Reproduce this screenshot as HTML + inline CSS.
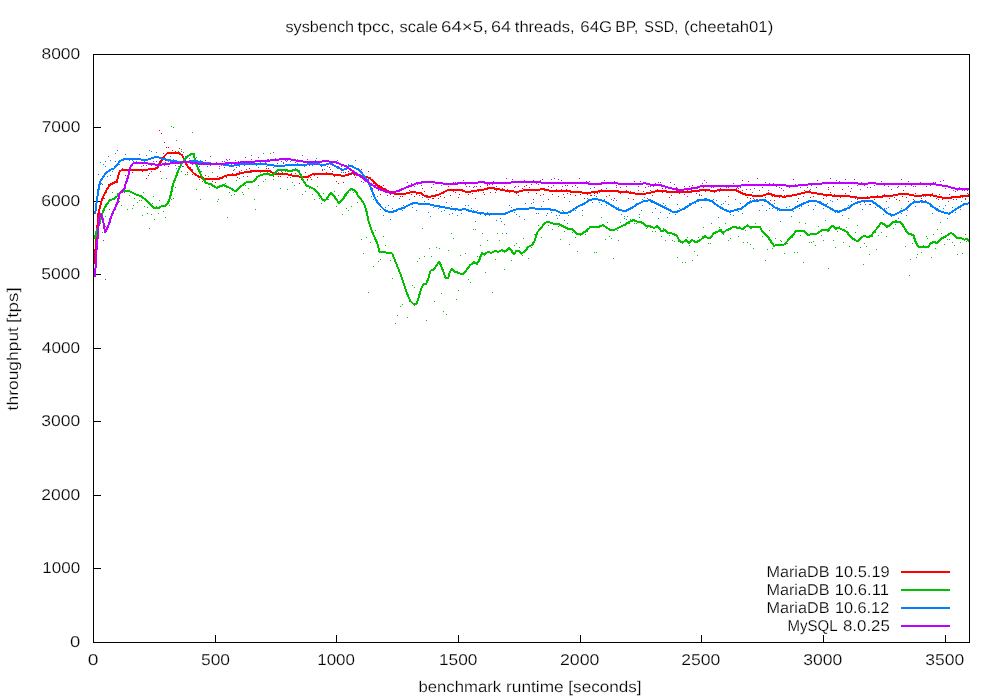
<!DOCTYPE html>
<html><head><meta charset="utf-8"><title>sysbench tpcc</title>
<style>html,body{margin:0;padding:0;background:#fff}svg{display:block;will-change:transform}text{font-family:"Liberation Sans",sans-serif;font-size:15.6px;fill:#000;stroke:#fff;stroke-width:0.2px;text-rendering:geometricPrecision}</style></head>
<body>
<svg width="1000" height="700" viewBox="0 0 1000 700">
<rect width="1000" height="700" fill="#fff"/>
<path d="M94 568h7v1h-7zM94 495h7v1h-7zM94 421h7v1h-7zM94 348h7v1h-7zM94 274h7v1h-7zM94 201h7v1h-7zM94 127h7v1h-7zM215 635h1v7h-1zM336 635h1v7h-1zM458 635h1v7h-1zM580 635h1v7h-1zM701 635h1v7h-1zM823 635h1v7h-1zM945 635h1v7h-1z" fill="#000" shape-rendering="crispEdges"/>
<path d="M95 250h1v1h-1zM97 224h1v1h-1zM99 205h1v1h-1zM102 200h1v1h-1zM104 198h1v1h-1zM108 184h1v1h-1zM110 183h1v1h-1zM112 182h1v1h-1zM114 183h1v1h-1zM117 182h1v1h-1zM119 171h1v1h-1zM122 168h1v1h-1zM125 175h1v1h-1zM126 170h1v1h-1zM129 174h1v1h-1zM132 172h1v1h-1zM135 170h1v1h-1zM137 170h1v1h-1zM140 169h1v1h-1zM142 171h1v1h-1zM143 165h1v1h-1zM146 178h1v1h-1zM148 175h1v1h-1zM151 171h1v1h-1zM153 169h1v1h-1zM155 167h1v1h-1zM158 166h1v1h-1zM160 171h1v1h-1zM163 153h1v1h-1zM165 160h1v1h-1zM168 153h1v1h-1zM170 159h1v1h-1zM172 150h1v1h-1zM175 151h1v1h-1zM179 148h1v1h-1zM180 154h1v1h-1zM183 159h1v1h-1zM185 160h1v1h-1zM187 172h1v1h-1zM190 167h1v1h-1zM192 174h1v1h-1zM194 173h1v1h-1zM197 175h1v1h-1zM199 179h1v1h-1zM202 181h1v1h-1zM205 175h1v1h-1zM206 178h1v1h-1zM209 183h1v1h-1zM212 181h1v1h-1zM215 182h1v1h-1zM217 176h1v1h-1zM218 178h1v1h-1zM222 178h1v1h-1zM224 176h1v1h-1zM226 177h1v1h-1zM229 175h1v1h-1zM232 173h1v1h-1zM234 169h1v1h-1zM237 177h1v1h-1zM239 171h1v1h-1zM241 170h1v1h-1zM243 176h1v1h-1zM247 176h1v1h-1zM249 168h1v1h-1zM251 172h1v1h-1zM252 170h1v1h-1zM256 171h1v1h-1zM258 176h1v1h-1zM260 174h1v1h-1zM263 171h1v1h-1zM266 168h1v1h-1zM268 168h1v1h-1zM270 165h1v1h-1zM273 176h1v1h-1zM275 173h1v1h-1zM278 176h1v1h-1zM280 176h1v1h-1zM282 173h1v1h-1zM284 169h1v1h-1zM287 177h1v1h-1zM291 173h1v1h-1zM293 176h1v1h-1zM295 173h1v1h-1zM296 175h1v1h-1zM299 183h1v1h-1zM301 179h1v1h-1zM305 172h1v1h-1zM307 179h1v1h-1zM310 177h1v1h-1zM311 179h1v1h-1zM314 175h1v1h-1zM317 177h1v1h-1zM319 174h1v1h-1zM322 170h1v1h-1zM325 174h1v1h-1zM326 172h1v1h-1zM329 167h1v1h-1zM332 171h1v1h-1zM334 176h1v1h-1zM336 181h1v1h-1zM338 183h1v1h-1zM341 170h1v1h-1zM343 182h1v1h-1zM345 172h1v1h-1zM348 175h1v1h-1zM351 170h1v1h-1zM354 175h1v1h-1zM355 177h1v1h-1zM358 174h1v1h-1zM361 169h1v1h-1zM364 178h1v1h-1zM365 178h1v1h-1zM368 171h1v1h-1zM370 177h1v1h-1zM373 183h1v1h-1zM376 183h1v1h-1zM378 187h1v1h-1zM380 194h1v1h-1zM383 185h1v1h-1zM385 189h1v1h-1zM387 195h1v1h-1zM390 194h1v1h-1zM392 191h1v1h-1zM395 194h1v1h-1zM397 193h1v1h-1zM400 196h1v1h-1zM402 196h1v1h-1zM404 194h1v1h-1zM406 192h1v1h-1zM408 192h1v1h-1zM411 194h1v1h-1zM414 196h1v1h-1zM416 194h1v1h-1zM419 195h1v1h-1zM422 188h1v1h-1zM424 191h1v1h-1zM427 195h1v1h-1zM428 199h1v1h-1zM432 198h1v1h-1zM433 198h1v1h-1zM436 190h1v1h-1zM438 198h1v1h-1zM440 196h1v1h-1zM444 197h1v1h-1zM446 191h1v1h-1zM448 186h1v1h-1zM450 195h1v1h-1zM453 191h1v1h-1zM455 192h1v1h-1zM458 197h1v1h-1zM459 194h1v1h-1zM462 189h1v1h-1zM465 184h1v1h-1zM468 194h1v1h-1zM469 186h1v1h-1zM472 193h1v1h-1zM475 198h1v1h-1zM478 191h1v1h-1zM480 186h1v1h-1zM483 192h1v1h-1zM484 194h1v1h-1zM487 185h1v1h-1zM490 192h1v1h-1zM492 184h1v1h-1zM495 192h1v1h-1zM496 190h1v1h-1zM499 188h1v1h-1zM502 188h1v1h-1zM504 186h1v1h-1zM507 189h1v1h-1zM509 192h1v1h-1zM511 181h1v1h-1zM513 190h1v1h-1zM516 193h1v1h-1zM518 195h1v1h-1zM522 188h1v1h-1zM524 186h1v1h-1zM526 185h1v1h-1zM528 192h1v1h-1zM530 189h1v1h-1zM533 199h1v1h-1zM536 193h1v1h-1zM538 189h1v1h-1zM540 195h1v1h-1zM543 194h1v1h-1zM545 190h1v1h-1zM548 199h1v1h-1zM551 187h1v1h-1zM552 194h1v1h-1zM556 189h1v1h-1zM558 196h1v1h-1zM561 189h1v1h-1zM563 194h1v1h-1zM564 197h1v1h-1zM567 193h1v1h-1zM570 194h1v1h-1zM572 186h1v1h-1zM575 195h1v1h-1zM577 192h1v1h-1zM580 194h1v1h-1zM582 192h1v1h-1zM584 198h1v1h-1zM587 194h1v1h-1zM590 195h1v1h-1zM591 195h1v1h-1zM594 193h1v1h-1zM597 193h1v1h-1zM599 192h1v1h-1zM601 189h1v1h-1zM604 191h1v1h-1zM606 196h1v1h-1zM609 195h1v1h-1zM611 191h1v1h-1zM614 198h1v1h-1zM616 185h1v1h-1zM618 190h1v1h-1zM620 193h1v1h-1zM623 191h1v1h-1zM626 190h1v1h-1zM628 198h1v1h-1zM630 191h1v1h-1zM633 199h1v1h-1zM635 193h1v1h-1zM638 190h1v1h-1zM641 202h1v1h-1zM643 191h1v1h-1zM645 187h1v1h-1zM647 198h1v1h-1zM650 190h1v1h-1zM652 195h1v1h-1zM655 185h1v1h-1zM657 189h1v1h-1zM660 191h1v1h-1zM662 192h1v1h-1zM665 188h1v1h-1zM667 186h1v1h-1zM669 197h1v1h-1zM671 195h1v1h-1zM674 192h1v1h-1zM676 187h1v1h-1zM679 193h1v1h-1zM682 189h1v1h-1zM684 186h1v1h-1zM687 190h1v1h-1zM690 188h1v1h-1zM692 185h1v1h-1zM695 188h1v1h-1zM697 188h1v1h-1zM699 194h1v1h-1zM701 195h1v1h-1zM703 187h1v1h-1zM705 191h1v1h-1zM708 186h1v1h-1zM710 185h1v1h-1zM714 192h1v1h-1zM715 190h1v1h-1zM718 189h1v1h-1zM720 186h1v1h-1zM723 190h1v1h-1zM726 187h1v1h-1zM728 196h1v1h-1zM730 185h1v1h-1zM733 190h1v1h-1zM736 191h1v1h-1zM738 188h1v1h-1zM740 192h1v1h-1zM742 190h1v1h-1zM745 195h1v1h-1zM747 197h1v1h-1zM750 198h1v1h-1zM753 198h1v1h-1zM754 196h1v1h-1zM756 199h1v1h-1zM759 190h1v1h-1zM762 199h1v1h-1zM765 197h1v1h-1zM768 192h1v1h-1zM770 200h1v1h-1zM772 196h1v1h-1zM774 200h1v1h-1zM776 195h1v1h-1zM779 197h1v1h-1zM781 196h1v1h-1zM784 195h1v1h-1zM787 196h1v1h-1zM789 196h1v1h-1zM791 195h1v1h-1zM794 195h1v1h-1zM796 194h1v1h-1zM798 198h1v1h-1zM801 192h1v1h-1zM804 190h1v1h-1zM807 187h1v1h-1zM809 190h1v1h-1zM810 197h1v1h-1zM813 196h1v1h-1zM816 192h1v1h-1zM818 193h1v1h-1zM820 201h1v1h-1zM823 198h1v1h-1zM826 196h1v1h-1zM828 189h1v1h-1zM830 192h1v1h-1zM833 186h1v1h-1zM834 194h1v1h-1zM837 199h1v1h-1zM840 197h1v1h-1zM842 189h1v1h-1zM845 193h1v1h-1zM847 195h1v1h-1zM850 191h1v1h-1zM852 196h1v1h-1zM855 198h1v1h-1zM857 199h1v1h-1zM859 201h1v1h-1zM861 197h1v1h-1zM864 202h1v1h-1zM867 196h1v1h-1zM870 204h1v1h-1zM871 197h1v1h-1zM874 199h1v1h-1zM877 195h1v1h-1zM879 197h1v1h-1zM882 197h1v1h-1zM884 194h1v1h-1zM886 201h1v1h-1zM889 198h1v1h-1zM891 196h1v1h-1zM894 197h1v1h-1zM896 199h1v1h-1zM899 200h1v1h-1zM902 196h1v1h-1zM903 190h1v1h-1zM906 197h1v1h-1zM908 201h1v1h-1zM910 195h1v1h-1zM913 199h1v1h-1zM915 193h1v1h-1zM918 201h1v1h-1zM921 198h1v1h-1zM923 194h1v1h-1zM925 200h1v1h-1zM928 194h1v1h-1zM930 196h1v1h-1zM932 193h1v1h-1zM936 198h1v1h-1zM938 199h1v1h-1zM939 194h1v1h-1zM942 199h1v1h-1zM944 197h1v1h-1zM948 201h1v1h-1zM949 198h1v1h-1zM953 199h1v1h-1zM955 191h1v1h-1zM956 199h1v1h-1zM960 195h1v1h-1zM962 197h1v1h-1zM965 199h1v1h-1zM967 193h1v1h-1zM159 130h1v1h-1zM161 133h1v1h-1zM164 142h1v1h-1zM166 147h1v1h-1zM168 147h1v1h-1z" fill="#ff0000" shape-rendering="crispEdges"/>
<polyline points="94.3,264.0 95.7,247.0 97.9,221.0 98.5,213.0 100.0,207.0 101.4,201.4 103.6,195.7 105.7,192.0 107.0,189.0 110.0,185.0 114.0,183.0 117.0,181.0 118.5,175.0 120.0,171.0 123.0,169.8 129.0,169.8 133.0,169.5 137.0,170.0 143.0,170.0 148.0,169.5 152.0,169.0 156.5,168.5 158.5,166.0 160.0,162.5 162.0,159.5 164.5,156.0 167.0,153.5 170.0,152.8 175.0,152.8 179.0,153.2 182.0,155.0 183.5,158.0 184.5,161.0 186.5,164.5 189.5,168.7 194.0,173.5 198.5,176.5 204.5,178.8 210.5,178.8 216.5,179.5 221.0,178.0 225.5,175.8 230.0,174.7 236.0,174.7 240.5,173.2 245.0,172.3 249.5,171.7 254.0,170.8 260.0,170.5 266.0,170.5 269.8,171.2 273.5,173.2 278.0,173.9 282.5,173.5 287.0,174.2 291.5,175.4 297.5,176.2 303.5,177.2 308.0,176.8 311.0,174.7 314.0,173.9 320.0,173.9 327.5,173.9 330.0,173.9 336.0,175.0 343.5,175.8 348.0,174.7 352.5,173.2 357.0,174.7 361.5,175.8 366.0,176.8 369.8,178.3 373.5,181.8 376.5,184.8 381.0,187.3 385.5,190.0 390.0,191.9 394.5,193.8 399.0,193.8 403.5,194.2 408.0,193.0 412.5,191.9 417.0,192.7 420.8,193.0 424.5,196.0 429.0,196.8 433.5,196.0 438.0,194.9 442.5,193.0 447.0,190.4 453.0,190.0 460.5,190.0 465.0,191.5 471.0,191.5 475.0,190.8 482.5,189.8 490.0,187.9 497.5,189.0 505.0,190.5 512.5,191.2 517.0,192.0 524.5,190.2 535.0,190.5 542.5,189.0 550.0,190.8 560.5,190.8 566.5,190.5 572.5,192.0 580.0,192.4 589.0,192.8 595.0,191.7 602.5,191.2 610.0,190.8 617.5,191.2 620.0,192.0 627.5,192.3 635.0,193.5 642.5,194.2 650.0,192.8 659.0,190.5 668.0,191.7 677.0,192.4 684.5,192.0 695.0,191.2 704.0,189.8 713.0,190.8 722.0,190.2 731.0,189.8 737.0,190.5 741.5,193.2 747.5,195.0 755.0,195.8 760.2,196.5 765.0,194.7 769.5,193.8 775.5,195.8 784.5,196.8 795.0,195.0 801.0,193.5 807.0,192.0 813.0,192.8 820.5,194.2 829.5,195.4 840.0,195.8 847.5,196.2 855.0,197.2 861.0,198.0 867.0,198.3 873.0,196.9 882.0,196.5 891.0,195.8 900.0,194.2 907.5,194.2 915.0,195.8 925.0,195.4 931.0,195.0 937.0,196.5 943.0,197.7 949.0,198.0 955.0,196.8 961.0,196.5 969.2,195.4" fill="none" stroke="#ff0000" stroke-width="2" stroke-linejoin="round" shape-rendering="crispEdges"/>
<path d="M96 236h1v1h-1zM97 232h1v1h-1zM100 213h1v1h-1zM102 232h1v1h-1zM105 216h1v1h-1zM108 224h1v1h-1zM109 209h1v1h-1zM112 192h1v1h-1zM115 204h1v1h-1zM117 193h1v1h-1zM119 201h1v1h-1zM121 205h1v1h-1zM125 182h1v1h-1zM127 191h1v1h-1zM129 195h1v1h-1zM132 208h1v1h-1zM133 205h1v1h-1zM136 194h1v1h-1zM139 200h1v1h-1zM141 200h1v1h-1zM143 192h1v1h-1zM147 207h1v1h-1zM148 201h1v1h-1zM152 203h1v1h-1zM153 196h1v1h-1zM156 206h1v1h-1zM158 213h1v1h-1zM161 178h1v1h-1zM163 211h1v1h-1zM165 217h1v1h-1zM169 205h1v1h-1zM171 199h1v1h-1zM173 198h1v1h-1zM175 187h1v1h-1zM178 172h1v1h-1zM181 171h1v1h-1zM183 152h1v1h-1zM185 174h1v1h-1zM187 174h1v1h-1zM191 162h1v1h-1zM192 132h1v1h-1zM194 156h1v1h-1zM196 189h1v1h-1zM200 199h1v1h-1zM203 179h1v1h-1zM205 180h1v1h-1zM208 176h1v1h-1zM209 187h1v1h-1zM212 172h1v1h-1zM214 185h1v1h-1zM217 201h1v1h-1zM218 199h1v1h-1zM221 163h1v1h-1zM225 183h1v1h-1zM227 217h1v1h-1zM229 192h1v1h-1zM231 195h1v1h-1zM234 194h1v1h-1zM236 180h1v1h-1zM239 178h1v1h-1zM242 192h1v1h-1zM243 194h1v1h-1zM245 185h1v1h-1zM248 188h1v1h-1zM251 172h1v1h-1zM254 199h1v1h-1zM255 209h1v1h-1zM258 185h1v1h-1zM260 172h1v1h-1zM263 181h1v1h-1zM265 179h1v1h-1zM268 164h1v1h-1zM270 153h1v1h-1zM273 179h1v1h-1zM275 173h1v1h-1zM278 172h1v1h-1zM280 188h1v1h-1zM283 173h1v1h-1zM285 171h1v1h-1zM287 189h1v1h-1zM290 177h1v1h-1zM292 182h1v1h-1zM294 185h1v1h-1zM297 159h1v1h-1zM300 174h1v1h-1zM302 194h1v1h-1zM305 191h1v1h-1zM307 180h1v1h-1zM309 188h1v1h-1zM312 194h1v1h-1zM314 199h1v1h-1zM317 186h1v1h-1zM319 198h1v1h-1zM321 203h1v1h-1zM323 193h1v1h-1zM327 199h1v1h-1zM328 199h1v1h-1zM330 192h1v1h-1zM334 191h1v1h-1zM336 206h1v1h-1zM338 195h1v1h-1zM342 214h1v1h-1zM344 194h1v1h-1zM346 208h1v1h-1zM348 210h1v1h-1zM351 206h1v1h-1zM353 192h1v1h-1zM356 194h1v1h-1zM357 202h1v1h-1zM511 260h1v1h-1zM514 245h1v1h-1zM516 243h1v1h-1zM519 247h1v1h-1zM522 255h1v1h-1zM523 238h1v1h-1zM526 250h1v1h-1zM528 258h1v1h-1zM531 247h1v1h-1zM534 234h1v1h-1zM535 234h1v1h-1zM538 225h1v1h-1zM541 237h1v1h-1zM543 224h1v1h-1zM546 215h1v1h-1zM548 225h1v1h-1zM551 209h1v1h-1zM552 229h1v1h-1zM555 224h1v1h-1zM558 226h1v1h-1zM560 239h1v1h-1zM563 211h1v1h-1zM564 231h1v1h-1zM568 215h1v1h-1zM569 244h1v1h-1zM572 232h1v1h-1zM575 237h1v1h-1zM577 251h1v1h-1zM580 235h1v1h-1zM582 215h1v1h-1zM585 234h1v1h-1zM587 231h1v1h-1zM589 226h1v1h-1zM591 226h1v1h-1zM594 252h1v1h-1zM596 252h1v1h-1zM599 226h1v1h-1zM601 217h1v1h-1zM605 239h1v1h-1zM607 222h1v1h-1zM609 236h1v1h-1zM611 238h1v1h-1zM613 258h1v1h-1zM617 230h1v1h-1zM618 240h1v1h-1zM620 222h1v1h-1zM624 216h1v1h-1zM626 224h1v1h-1zM629 223h1v1h-1zM630 219h1v1h-1zM634 223h1v1h-1zM636 223h1v1h-1zM639 217h1v1h-1zM641 221h1v1h-1zM642 222h1v1h-1zM646 228h1v1h-1zM647 227h1v1h-1zM650 227h1v1h-1zM652 231h1v1h-1zM655 231h1v1h-1zM658 228h1v1h-1zM661 236h1v1h-1zM663 228h1v1h-1zM665 240h1v1h-1zM667 233h1v1h-1zM669 235h1v1h-1zM672 240h1v1h-1zM674 241h1v1h-1zM677 257h1v1h-1zM680 241h1v1h-1zM682 262h1v1h-1zM685 262h1v1h-1zM687 237h1v1h-1zM689 245h1v1h-1zM692 260h1v1h-1zM694 251h1v1h-1zM697 255h1v1h-1zM698 237h1v1h-1zM702 236h1v1h-1zM703 227h1v1h-1zM706 237h1v1h-1zM708 243h1v1h-1zM710 243h1v1h-1zM713 233h1v1h-1zM717 231h1v1h-1zM719 227h1v1h-1zM720 230h1v1h-1zM723 234h1v1h-1zM725 223h1v1h-1zM728 240h1v1h-1zM730 238h1v1h-1zM733 227h1v1h-1zM736 226h1v1h-1zM738 236h1v1h-1zM739 226h1v1h-1zM743 242h1v1h-1zM745 230h1v1h-1zM747 242h1v1h-1zM750 244h1v1h-1zM753 248h1v1h-1zM755 223h1v1h-1zM758 227h1v1h-1zM760 229h1v1h-1zM762 236h1v1h-1zM765 260h1v1h-1zM767 249h1v1h-1zM769 230h1v1h-1zM772 248h1v1h-1zM775 238h1v1h-1zM777 244h1v1h-1zM780 240h1v1h-1zM781 241h1v1h-1zM784 253h1v1h-1zM787 243h1v1h-1zM789 239h1v1h-1zM792 237h1v1h-1zM794 252h1v1h-1zM797 252h1v1h-1zM799 222h1v1h-1zM800 235h1v1h-1zM803 262h1v1h-1zM805 223h1v1h-1zM809 242h1v1h-1zM811 242h1v1h-1zM813 241h1v1h-1zM815 245h1v1h-1zM818 226h1v1h-1zM821 235h1v1h-1zM823 240h1v1h-1zM825 220h1v1h-1zM828 268h1v1h-1zM830 226h1v1h-1zM833 240h1v1h-1zM835 247h1v1h-1zM837 231h1v1h-1zM839 226h1v1h-1zM843 242h1v1h-1zM846 227h1v1h-1zM848 218h1v1h-1zM849 246h1v1h-1zM852 239h1v1h-1zM855 232h1v1h-1zM857 225h1v1h-1zM860 247h1v1h-1zM863 264h1v1h-1zM864 243h1v1h-1zM866 246h1v1h-1zM869 254h1v1h-1zM872 236h1v1h-1zM875 232h1v1h-1zM876 249h1v1h-1zM878 235h1v1h-1zM881 232h1v1h-1zM883 214h1v1h-1zM886 236h1v1h-1zM889 226h1v1h-1zM891 223h1v1h-1zM893 228h1v1h-1zM895 224h1v1h-1zM899 212h1v1h-1zM901 208h1v1h-1zM903 227h1v1h-1zM905 246h1v1h-1zM909 275h1v1h-1zM910 259h1v1h-1zM912 243h1v1h-1zM916 257h1v1h-1zM917 254h1v1h-1zM921 252h1v1h-1zM923 245h1v1h-1zM926 236h1v1h-1zM927 238h1v1h-1zM931 257h1v1h-1zM933 234h1v1h-1zM935 248h1v1h-1zM937 229h1v1h-1zM940 222h1v1h-1zM941 233h1v1h-1zM944 244h1v1h-1zM947 239h1v1h-1zM949 239h1v1h-1zM952 242h1v1h-1zM954 245h1v1h-1zM957 254h1v1h-1zM960 242h1v1h-1zM962 253h1v1h-1zM965 234h1v1h-1zM966 241h1v1h-1zM422 228h1v1h-1zM375 230h1v1h-1zM383 236h1v1h-1zM366 237h1v1h-1zM361 239h1v1h-1zM370 242h1v1h-1zM385 245h1v1h-1zM363 253h1v1h-1zM380 259h1v1h-1zM378 261h1v1h-1zM390 260h1v1h-1zM373 266h1v1h-1zM392 278h1v1h-1zM368 292h1v1h-1zM412 285h1v1h-1zM414 287h1v1h-1zM402 304h1v1h-1zM400 306h1v1h-1zM397 315h1v1h-1zM407 317h1v1h-1zM395 323h1v1h-1zM426 320h1v1h-1zM434 301h1v1h-1zM441 293h1v1h-1zM443 311h1v1h-1zM446 314h1v1h-1zM456 299h1v1h-1zM458 290h1v1h-1zM468 279h1v1h-1zM470 282h1v1h-1zM485 272h1v1h-1zM492 292h1v1h-1zM504 269h1v1h-1zM495 259h1v1h-1zM429 248h1v1h-1zM436 247h1v1h-1zM439 248h1v1h-1zM448 250h1v1h-1zM424 256h1v1h-1zM431 256h1v1h-1zM419 258h1v1h-1zM417 261h1v1h-1zM451 233h1v1h-1zM453 238h1v1h-1zM460 255h1v1h-1zM465 253h1v1h-1zM473 229h1v1h-1zM475 229h1v1h-1zM482 233h1v1h-1zM480 245h1v1h-1zM477 256h1v1h-1zM487 240h1v1h-1zM497 233h1v1h-1zM502 233h1v1h-1zM499 240h1v1h-1zM171 126h1v1h-1zM173 127h1v1h-1zM176 140h1v1h-1zM181 149h1v1h-1zM178 151h1v1h-1zM127 209h1v1h-1zM134 198h1v1h-1zM137 202h1v1h-1zM144 206h1v1h-1zM142 215h1v1h-1zM147 213h1v1h-1zM151 214h1v1h-1zM154 219h1v1h-1zM149 228h1v1h-1zM159 200h1v1h-1z" fill="#00c000" shape-rendering="crispEdges"/>
<polyline points="94.7,239.3 96.4,231.4 99.3,224.3 102.1,214.3 104.3,208.6 107.1,203.6 110.0,200.3 114.3,198.6 117.1,196.4 120.7,192.1 124.3,190.7 128.6,190.7 132.9,192.9 137.1,195.0 140.7,196.0 145.0,199.3 148.6,202.9 151.4,205.7 154.3,207.9 158.6,207.9 161.4,206.4 164.3,206.4 167.1,204.3 169.3,200.0 171.2,193.0 173.0,184.0 176.0,177.0 178.0,171.0 181.0,165.0 184.0,160.0 185.0,159.2 188.8,155.5 191.8,153.7 193.7,154.0 194.8,159.2 197.0,166.0 200.0,172.8 203.0,178.8 206.0,183.2 211.2,184.0 214.2,186.7 216.8,187.8 220.2,186.2 223.7,185.2 227.0,186.7 230.0,187.8 233.0,190.0 235.2,191.0 237.5,190.0 239.8,187.0 242.8,184.8 245.8,182.5 251.0,182.2 254.3,181.0 257.0,177.2 260.0,175.4 263.8,174.2 267.5,173.5 270.5,175.0 272.8,175.4 275.0,172.8 277.2,170.5 281.0,170.2 284.8,169.8 288.5,170.8 290.8,171.2 293.8,170.0 296.8,170.0 299.0,172.0 301.2,175.8 303.5,181.0 306.5,185.5 310.2,187.0 314.0,188.9 317.0,191.5 320.0,196.0 323.0,199.8 324.5,200.8 326.8,198.7 329.0,195.2 331.2,193.0 333.0,194.5 336.0,199.0 339.0,202.8 342.0,200.5 345.0,196.0 348.0,191.5 351.0,188.9 354.0,190.0 356.2,191.5 357.8,196.0 360.8,199.0 363.0,202.0 365.2,206.5 366.8,212.5 368.2,220.0 369.8,225.0 372.8,233.2 375.8,240.0 378.0,245.2 379.5,252.3 383.2,251.7 387.8,253.1 392.2,253.5 395.2,261.0 398.2,268.5 401.2,276.0 404.2,285.0 407.2,294.0 410.2,300.8 414.3,304.8 417.0,303.0 419.2,295.5 421.5,288.0 423.8,283.5 426.0,284.2 428.2,279.0 430.5,270.8 433.5,269.7 436.5,265.5 439.1,261.8 441.0,265.5 443.2,271.5 445.8,278.2 448.1,278.2 450.0,271.5 452.2,268.8 455.2,271.8 459.0,273.0 462.8,274.5 466.5,270.0 470.2,265.2 474.0,262.2 477.0,263.7 479.2,260.2 481.8,253.2 484.5,254.7 487.5,252.0 491.2,252.8 495.0,251.2 498.8,251.7 501.8,250.2 504.8,251.7 509.2,247.9 511.8,251.2 513.7,254.2 516.2,251.2 519.2,251.2 521.5,253.5 525.2,251.2 528.2,246.8 532.0,245.2 535.0,240.0 537.2,232.5 541.0,228.0 544.8,222.8 548.5,222.0 553.0,223.5 559.0,224.2 563.5,226.5 568.0,228.8 572.5,229.5 577.0,233.7 581.5,234.0 586.0,231.0 590.5,227.2 595.0,227.2 599.5,226.5 603.2,225.0 607.0,228.0 610.0,229.8 613.8,230.2 617.5,228.3 620.0,226.8 624.5,225.0 629.0,222.0 633.5,220.1 638.0,222.0 642.5,222.8 645.5,225.8 650.0,226.2 653.8,228.0 657.5,226.1 661.2,231.0 665.0,230.2 668.0,232.5 672.5,233.7 677.0,235.5 679.2,240.8 682.2,242.7 686.0,240.0 689.0,242.7 692.0,240.0 695.8,242.2 699.5,240.8 704.8,236.2 707.8,237.8 710.8,237.8 713.8,233.2 717.5,231.8 720.5,229.8 722.8,233.2 726.5,230.2 730.2,228.8 733.2,226.5 737.0,228.0 743.0,228.8 747.5,225.3 750.5,227.7 755.0,226.8 760.2,227.2 762.5,231.8 765.0,234.0 768.0,237.0 771.0,241.5 774.0,245.7 778.5,244.8 784.5,244.5 789.0,239.2 792.8,235.5 795.8,231.0 804.0,231.0 807.8,235.2 811.5,234.0 816.0,234.3 822.0,230.2 825.8,229.5 828.0,231.0 831.0,226.5 833.2,225.8 835.5,228.8 838.5,228.0 843.0,229.8 846.8,231.8 850.5,237.0 854.2,239.2 857.2,241.5 861.0,237.8 864.0,235.8 867.8,237.3 871.5,235.5 876.0,229.5 879.0,225.8 881.2,222.8 884.2,224.2 886.5,226.8 889.5,225.8 891.8,222.8 896.2,221.2 901.5,222.8 904.5,228.0 907.5,233.2 911.2,234.3 913.5,235.5 916.0,243.0 919.0,247.5 923.5,246.8 928.0,247.5 930.2,243.8 933.2,242.2 937.0,242.7 941.5,238.5 946.0,236.2 950.5,233.2 953.5,234.0 956.5,237.8 961.0,238.1 964.0,239.6 967.0,239.2 969.2,240.8" fill="none" stroke="#00c000" stroke-width="2" stroke-linejoin="round" shape-rendering="crispEdges"/>
<path d="M95 209h1v1h-1zM98 189h1v1h-1zM101 183h1v1h-1zM102 184h1v1h-1zM105 166h1v1h-1zM107 176h1v1h-1zM110 175h1v1h-1zM112 171h1v1h-1zM115 161h1v1h-1zM116 164h1v1h-1zM119 164h1v1h-1zM121 169h1v1h-1zM124 159h1v1h-1zM126 159h1v1h-1zM129 160h1v1h-1zM132 160h1v1h-1zM133 161h1v1h-1zM136 161h1v1h-1zM138 162h1v1h-1zM141 166h1v1h-1zM144 161h1v1h-1zM146 155h1v1h-1zM149 173h1v1h-1zM151 165h1v1h-1zM153 164h1v1h-1zM156 152h1v1h-1zM158 163h1v1h-1zM161 162h1v1h-1zM163 158h1v1h-1zM166 178h1v1h-1zM168 161h1v1h-1zM170 156h1v1h-1zM173 159h1v1h-1zM176 168h1v1h-1zM178 166h1v1h-1zM181 151h1v1h-1zM183 166h1v1h-1zM185 156h1v1h-1zM187 156h1v1h-1zM189 158h1v1h-1zM192 169h1v1h-1zM196 157h1v1h-1zM196 166h1v1h-1zM200 160h1v1h-1zM201 171h1v1h-1zM204 164h1v1h-1zM207 166h1v1h-1zM210 156h1v1h-1zM212 164h1v1h-1zM214 164h1v1h-1zM216 162h1v1h-1zM219 168h1v1h-1zM221 165h1v1h-1zM224 167h1v1h-1zM227 160h1v1h-1zM228 162h1v1h-1zM231 164h1v1h-1zM233 170h1v1h-1zM235 160h1v1h-1zM239 166h1v1h-1zM240 172h1v1h-1zM243 176h1v1h-1zM246 169h1v1h-1zM248 163h1v1h-1zM251 155h1v1h-1zM254 163h1v1h-1zM256 165h1v1h-1zM258 167h1v1h-1zM260 162h1v1h-1zM263 153h1v1h-1zM266 166h1v1h-1zM267 159h1v1h-1zM270 165h1v1h-1zM273 167h1v1h-1zM275 158h1v1h-1zM277 170h1v1h-1zM281 171h1v1h-1zM283 162h1v1h-1zM286 161h1v1h-1zM288 164h1v1h-1zM290 161h1v1h-1zM292 165h1v1h-1zM295 168h1v1h-1zM297 163h1v1h-1zM299 170h1v1h-1zM302 155h1v1h-1zM304 166h1v1h-1zM307 161h1v1h-1zM309 165h1v1h-1zM312 165h1v1h-1zM315 160h1v1h-1zM316 158h1v1h-1zM319 164h1v1h-1zM322 169h1v1h-1zM324 169h1v1h-1zM327 166h1v1h-1zM329 161h1v1h-1zM330 169h1v1h-1zM334 165h1v1h-1zM337 160h1v1h-1zM338 166h1v1h-1zM341 172h1v1h-1zM343 172h1v1h-1zM345 165h1v1h-1zM348 164h1v1h-1zM351 172h1v1h-1zM353 174h1v1h-1zM355 160h1v1h-1zM358 168h1v1h-1zM360 174h1v1h-1zM363 182h1v1h-1zM365 178h1v1h-1zM368 179h1v1h-1zM371 196h1v1h-1zM373 199h1v1h-1zM376 202h1v1h-1zM377 196h1v1h-1zM380 209h1v1h-1zM383 215h1v1h-1zM385 207h1v1h-1zM388 205h1v1h-1zM390 219h1v1h-1zM392 208h1v1h-1zM395 211h1v1h-1zM396 211h1v1h-1zM399 198h1v1h-1zM402 210h1v1h-1zM403 205h1v1h-1zM407 206h1v1h-1zM409 199h1v1h-1zM412 207h1v1h-1zM414 203h1v1h-1zM416 210h1v1h-1zM419 203h1v1h-1zM422 197h1v1h-1zM424 201h1v1h-1zM426 197h1v1h-1zM428 212h1v1h-1zM430 216h1v1h-1zM433 207h1v1h-1zM435 194h1v1h-1zM438 208h1v1h-1zM441 211h1v1h-1zM444 210h1v1h-1zM446 202h1v1h-1zM449 214h1v1h-1zM451 206h1v1h-1zM452 213h1v1h-1zM455 210h1v1h-1zM457 215h1v1h-1zM461 213h1v1h-1zM462 208h1v1h-1zM465 205h1v1h-1zM468 205h1v1h-1zM471 208h1v1h-1zM473 210h1v1h-1zM475 221h1v1h-1zM477 210h1v1h-1zM480 214h1v1h-1zM482 213h1v1h-1zM485 215h1v1h-1zM487 212h1v1h-1zM489 215h1v1h-1zM492 214h1v1h-1zM495 213h1v1h-1zM496 220h1v1h-1zM500 218h1v1h-1zM501 221h1v1h-1zM504 224h1v1h-1zM506 233h1v1h-1zM509 205h1v1h-1zM511 207h1v1h-1zM514 212h1v1h-1zM516 214h1v1h-1zM519 216h1v1h-1zM522 209h1v1h-1zM524 219h1v1h-1zM525 203h1v1h-1zM528 209h1v1h-1zM531 203h1v1h-1zM533 202h1v1h-1zM536 213h1v1h-1zM538 213h1v1h-1zM541 206h1v1h-1zM543 201h1v1h-1zM546 215h1v1h-1zM547 213h1v1h-1zM551 212h1v1h-1zM553 209h1v1h-1zM556 215h1v1h-1zM557 218h1v1h-1zM559 215h1v1h-1zM562 210h1v1h-1zM564 220h1v1h-1zM567 223h1v1h-1zM569 201h1v1h-1zM573 209h1v1h-1zM575 210h1v1h-1zM577 207h1v1h-1zM580 204h1v1h-1zM582 210h1v1h-1zM585 202h1v1h-1zM587 198h1v1h-1zM590 188h1v1h-1zM592 202h1v1h-1zM594 195h1v1h-1zM596 196h1v1h-1zM599 202h1v1h-1zM601 204h1v1h-1zM604 199h1v1h-1zM606 205h1v1h-1zM608 203h1v1h-1zM611 199h1v1h-1zM613 200h1v1h-1zM616 200h1v1h-1zM618 207h1v1h-1zM621 214h1v1h-1zM624 218h1v1h-1zM626 219h1v1h-1zM627 216h1v1h-1zM630 208h1v1h-1zM633 206h1v1h-1zM636 203h1v1h-1zM639 214h1v1h-1zM641 210h1v1h-1zM642 199h1v1h-1zM644 197h1v1h-1zM648 192h1v1h-1zM651 202h1v1h-1zM652 212h1v1h-1zM655 208h1v1h-1zM658 218h1v1h-1zM660 212h1v1h-1zM663 203h1v1h-1zM665 205h1v1h-1zM667 217h1v1h-1zM669 213h1v1h-1zM672 212h1v1h-1zM675 214h1v1h-1zM677 204h1v1h-1zM679 208h1v1h-1zM682 208h1v1h-1zM684 209h1v1h-1zM687 205h1v1h-1zM689 203h1v1h-1zM691 203h1v1h-1zM695 203h1v1h-1zM697 199h1v1h-1zM699 195h1v1h-1zM701 207h1v1h-1zM704 198h1v1h-1zM706 198h1v1h-1zM708 199h1v1h-1zM711 223h1v1h-1zM713 199h1v1h-1zM716 200h1v1h-1zM718 217h1v1h-1zM721 204h1v1h-1zM723 203h1v1h-1zM725 201h1v1h-1zM728 204h1v1h-1zM730 214h1v1h-1zM733 215h1v1h-1zM735 199h1v1h-1zM738 211h1v1h-1zM740 203h1v1h-1zM742 213h1v1h-1zM745 206h1v1h-1zM747 202h1v1h-1zM750 200h1v1h-1zM752 192h1v1h-1zM754 199h1v1h-1zM757 199h1v1h-1zM759 210h1v1h-1zM762 205h1v1h-1zM764 201h1v1h-1zM766 210h1v1h-1zM769 208h1v1h-1zM772 208h1v1h-1zM774 203h1v1h-1zM777 210h1v1h-1zM780 221h1v1h-1zM782 209h1v1h-1zM784 209h1v1h-1zM786 207h1v1h-1zM789 206h1v1h-1zM791 216h1v1h-1zM793 211h1v1h-1zM797 201h1v1h-1zM799 208h1v1h-1zM801 206h1v1h-1zM803 196h1v1h-1zM806 201h1v1h-1zM808 205h1v1h-1zM810 189h1v1h-1zM813 209h1v1h-1zM815 205h1v1h-1zM818 201h1v1h-1zM820 201h1v1h-1zM823 208h1v1h-1zM826 204h1v1h-1zM827 203h1v1h-1zM830 200h1v1h-1zM832 201h1v1h-1zM835 212h1v1h-1zM838 212h1v1h-1zM839 212h1v1h-1zM842 215h1v1h-1zM845 210h1v1h-1zM848 205h1v1h-1zM850 205h1v1h-1zM851 201h1v1h-1zM854 197h1v1h-1zM857 198h1v1h-1zM860 204h1v1h-1zM862 209h1v1h-1zM865 204h1v1h-1zM867 201h1v1h-1zM869 204h1v1h-1zM872 200h1v1h-1zM875 207h1v1h-1zM877 206h1v1h-1zM879 205h1v1h-1zM881 207h1v1h-1zM884 208h1v1h-1zM886 208h1v1h-1zM888 207h1v1h-1zM891 216h1v1h-1zM894 195h1v1h-1zM896 222h1v1h-1zM898 218h1v1h-1zM901 213h1v1h-1zM903 209h1v1h-1zM906 215h1v1h-1zM907 210h1v1h-1zM910 203h1v1h-1zM914 200h1v1h-1zM915 206h1v1h-1zM918 201h1v1h-1zM921 202h1v1h-1zM923 196h1v1h-1zM925 196h1v1h-1zM928 203h1v1h-1zM930 206h1v1h-1zM932 213h1v1h-1zM934 207h1v1h-1zM937 208h1v1h-1zM939 206h1v1h-1zM943 208h1v1h-1zM945 205h1v1h-1zM947 218h1v1h-1zM950 212h1v1h-1zM952 207h1v1h-1zM955 212h1v1h-1zM957 207h1v1h-1zM960 209h1v1h-1zM961 201h1v1h-1zM965 198h1v1h-1zM966 203h1v1h-1zM117 150h1v1h-1zM115 153h1v1h-1zM108 156h1v1h-1zM125 154h1v1h-1zM139 154h1v1h-1zM149 150h1v1h-1zM151 151h1v1h-1zM156 152h1v1h-1zM105 161h1v1h-1zM100 162h1v1h-1zM110 160h1v1h-1zM103 164h1v1h-1zM98 174h1v1h-1z" fill="#0080ff" shape-rendering="crispEdges"/>
<polyline points="95.0,214.3 96.4,204.3 97.0,200.0 98.0,192.0 100.0,182.0 103.0,177.0 106.0,173.0 110.0,170.0 114.0,168.5 117.0,165.0 120.0,161.0 122.0,159.8 126.0,159.0 130.0,159.3 135.0,159.3 138.0,159.0 142.0,159.7 148.0,159.5 152.0,158.3 156.0,156.8 159.0,157.5 163.0,158.8 168.0,160.0 173.0,161.0 180.0,162.0 185.0,162.0 191.0,161.2 197.0,161.2 201.5,162.2 207.5,163.3 215.0,163.8 222.5,164.5 228.5,165.2 231.5,166.4 234.5,165.2 240.5,164.5 248.0,164.2 255.5,163.8 263.0,163.8 269.0,164.8 275.0,165.7 282.5,165.7 290.0,165.2 297.5,164.8 305.0,164.8 312.5,163.8 320.0,164.5 326.0,164.5 330.0,163.3 334.5,165.7 339.0,168.2 342.8,169.8 345.8,169.0 348.8,166.3 351.8,166.0 354.8,168.2 358.5,169.3 361.5,172.8 365.2,177.7 368.2,182.2 370.5,187.0 372.8,193.0 375.0,198.2 378.0,202.8 381.0,206.5 384.0,209.5 387.0,211.3 391.5,212.5 394.5,211.0 399.0,209.2 403.5,208.0 408.0,205.4 412.5,203.5 415.5,203.1 420.0,203.8 427.5,203.8 433.5,205.4 439.5,206.5 445.5,207.6 451.5,208.8 457.5,209.5 462.0,209.5 465.0,209.1 469.5,211.0 474.0,211.8 475.0,212.2 482.5,213.3 490.0,214.5 497.5,213.8 505.0,213.8 511.0,211.2 517.0,209.2 524.5,208.9 532.0,208.2 539.5,208.9 548.5,209.2 556.0,210.4 560.5,212.7 565.0,213.3 569.5,212.2 574.0,209.2 578.5,206.2 584.5,203.7 589.0,200.2 593.5,199.2 598.0,199.5 604.0,201.0 610.0,204.4 616.0,208.2 620.5,210.4 626.0,210.8 632.0,207.8 638.0,204.0 644.0,201.0 650.0,200.2 656.0,203.2 662.0,206.2 668.0,209.2 672.5,211.8 677.0,211.8 683.0,209.2 689.0,205.5 695.0,201.8 699.5,200.2 705.5,199.5 711.5,201.0 717.5,205.5 723.5,209.2 729.5,211.8 735.5,210.0 741.5,208.5 746.0,204.8 750.5,201.8 756.5,200.7 762.5,200.2 765.0,200.2 769.5,203.2 774.0,207.0 780.0,209.7 786.0,210.0 792.0,209.7 798.0,206.2 804.0,203.2 810.0,201.0 816.0,201.0 822.0,203.7 828.0,207.0 834.0,210.4 838.5,211.8 843.0,210.0 849.0,207.8 853.5,204.0 859.5,201.8 865.5,200.7 871.5,201.0 876.0,204.0 882.0,208.5 886.5,212.7 891.0,214.8 895.5,214.5 900.0,211.8 906.0,209.2 910.5,204.3 915.0,201.8 922.0,201.4 928.0,202.8 932.5,206.2 937.0,210.0 943.0,212.2 949.0,213.8 953.5,210.8 959.5,207.0 964.0,204.3 969.2,203.2" fill="none" stroke="#0080ff" stroke-width="2" stroke-linejoin="round" shape-rendering="crispEdges"/>
<path d="M95 273h1v1h-1zM97 243h1v1h-1zM99 220h1v1h-1zM103 221h1v1h-1zM105 226h1v1h-1zM106 231h1v1h-1zM110 222h1v1h-1zM113 213h1v1h-1zM115 209h1v1h-1zM117 204h1v1h-1zM119 197h1v1h-1zM122 192h1v1h-1zM124 192h1v1h-1zM127 181h1v1h-1zM130 168h1v1h-1zM131 164h1v1h-1zM134 162h1v1h-1zM137 159h1v1h-1zM138 163h1v1h-1zM141 163h1v1h-1zM144 162h1v1h-1zM146 165h1v1h-1zM149 168h1v1h-1zM151 165h1v1h-1zM153 161h1v1h-1zM156 161h1v1h-1zM158 167h1v1h-1zM161 165h1v1h-1zM164 165h1v1h-1zM165 162h1v1h-1zM168 166h1v1h-1zM170 161h1v1h-1zM173 161h1v1h-1zM175 165h1v1h-1zM178 162h1v1h-1zM180 162h1v1h-1zM182 166h1v1h-1zM185 160h1v1h-1zM187 161h1v1h-1zM190 160h1v1h-1zM192 164h1v1h-1zM195 162h1v1h-1zM197 162h1v1h-1zM199 166h1v1h-1zM203 162h1v1h-1zM205 160h1v1h-1zM207 163h1v1h-1zM210 165h1v1h-1zM212 163h1v1h-1zM214 164h1v1h-1zM216 162h1v1h-1zM219 166h1v1h-1zM222 161h1v1h-1zM224 161h1v1h-1zM226 159h1v1h-1zM229 159h1v1h-1zM231 166h1v1h-1zM234 164h1v1h-1zM236 167h1v1h-1zM238 161h1v1h-1zM241 162h1v1h-1zM244 165h1v1h-1zM245 157h1v1h-1zM249 163h1v1h-1zM251 159h1v1h-1zM254 162h1v1h-1zM255 163h1v1h-1zM258 157h1v1h-1zM260 160h1v1h-1zM264 161h1v1h-1zM265 162h1v1h-1zM268 159h1v1h-1zM270 159h1v1h-1zM273 152h1v1h-1zM275 159h1v1h-1zM277 163h1v1h-1zM281 161h1v1h-1zM283 163h1v1h-1zM285 160h1v1h-1zM287 160h1v1h-1zM291 160h1v1h-1zM292 160h1v1h-1zM295 162h1v1h-1zM298 160h1v1h-1zM299 161h1v1h-1zM302 161h1v1h-1zM305 162h1v1h-1zM307 159h1v1h-1zM309 165h1v1h-1zM312 161h1v1h-1zM314 164h1v1h-1zM316 164h1v1h-1zM319 162h1v1h-1zM321 166h1v1h-1zM324 164h1v1h-1zM327 161h1v1h-1zM328 161h1v1h-1zM331 164h1v1h-1zM333 164h1v1h-1zM336 163h1v1h-1zM338 167h1v1h-1zM341 166h1v1h-1zM343 165h1v1h-1zM346 165h1v1h-1zM348 171h1v1h-1zM351 170h1v1h-1zM353 171h1v1h-1zM356 174h1v1h-1zM358 175h1v1h-1zM361 181h1v1h-1zM363 177h1v1h-1zM365 179h1v1h-1zM368 180h1v1h-1zM369 186h1v1h-1zM372 188h1v1h-1zM375 185h1v1h-1zM378 190h1v1h-1zM379 188h1v1h-1zM382 189h1v1h-1zM385 188h1v1h-1zM387 191h1v1h-1zM390 191h1v1h-1zM393 196h1v1h-1zM394 192h1v1h-1zM397 190h1v1h-1zM399 191h1v1h-1zM401 188h1v1h-1zM404 187h1v1h-1zM407 182h1v1h-1zM409 190h1v1h-1zM411 183h1v1h-1zM414 186h1v1h-1zM417 184h1v1h-1zM418 183h1v1h-1zM421 185h1v1h-1zM424 181h1v1h-1zM425 182h1v1h-1zM428 181h1v1h-1zM431 187h1v1h-1zM433 184h1v1h-1zM435 183h1v1h-1zM438 183h1v1h-1zM441 185h1v1h-1zM444 183h1v1h-1zM446 184h1v1h-1zM449 184h1v1h-1zM450 183h1v1h-1zM453 182h1v1h-1zM455 182h1v1h-1zM457 182h1v1h-1zM460 182h1v1h-1zM463 180h1v1h-1zM466 186h1v1h-1zM468 183h1v1h-1zM470 183h1v1h-1zM473 187h1v1h-1zM474 186h1v1h-1zM476 186h1v1h-1zM480 182h1v1h-1zM482 181h1v1h-1zM484 183h1v1h-1zM487 184h1v1h-1zM489 184h1v1h-1zM493 181h1v1h-1zM494 187h1v1h-1zM496 186h1v1h-1zM499 183h1v1h-1zM501 183h1v1h-1zM504 183h1v1h-1zM506 178h1v1h-1zM509 182h1v1h-1zM512 179h1v1h-1zM514 187h1v1h-1zM515 186h1v1h-1zM518 186h1v1h-1zM521 181h1v1h-1zM524 180h1v1h-1zM526 181h1v1h-1zM529 187h1v1h-1zM531 184h1v1h-1zM533 180h1v1h-1zM536 183h1v1h-1zM538 184h1v1h-1zM540 180h1v1h-1zM542 179h1v1h-1zM546 182h1v1h-1zM548 186h1v1h-1zM551 179h1v1h-1zM553 185h1v1h-1zM554 178h1v1h-1zM558 179h1v1h-1zM561 180h1v1h-1zM562 186h1v1h-1zM565 185h1v1h-1zM567 185h1v1h-1zM569 182h1v1h-1zM572 182h1v1h-1zM575 185h1v1h-1zM577 187h1v1h-1zM579 178h1v1h-1zM581 182h1v1h-1zM584 182h1v1h-1zM586 181h1v1h-1zM589 181h1v1h-1zM592 183h1v1h-1zM594 187h1v1h-1zM596 184h1v1h-1zM598 183h1v1h-1zM601 184h1v1h-1zM604 180h1v1h-1zM606 188h1v1h-1zM608 183h1v1h-1zM611 183h1v1h-1zM614 181h1v1h-1zM616 187h1v1h-1zM618 183h1v1h-1zM620 187h1v1h-1zM624 184h1v1h-1zM626 186h1v1h-1zM628 184h1v1h-1zM630 183h1v1h-1zM634 181h1v1h-1zM636 183h1v1h-1zM638 186h1v1h-1zM640 181h1v1h-1zM643 183h1v1h-1zM645 183h1v1h-1zM648 186h1v1h-1zM650 186h1v1h-1zM653 186h1v1h-1zM655 183h1v1h-1zM658 182h1v1h-1zM660 182h1v1h-1zM662 188h1v1h-1zM665 187h1v1h-1zM668 187h1v1h-1zM670 182h1v1h-1zM673 189h1v1h-1zM674 184h1v1h-1zM677 188h1v1h-1zM679 190h1v1h-1zM681 191h1v1h-1zM684 194h1v1h-1zM687 196h1v1h-1zM689 186h1v1h-1zM691 192h1v1h-1zM695 187h1v1h-1zM696 193h1v1h-1zM699 190h1v1h-1zM702 183h1v1h-1zM704 180h1v1h-1zM706 182h1v1h-1zM708 189h1v1h-1zM711 187h1v1h-1zM713 187h1v1h-1zM716 190h1v1h-1zM719 191h1v1h-1zM720 188h1v1h-1zM724 186h1v1h-1zM726 189h1v1h-1zM728 187h1v1h-1zM731 185h1v1h-1zM733 183h1v1h-1zM736 188h1v1h-1zM737 187h1v1h-1zM740 187h1v1h-1zM742 180h1v1h-1zM746 189h1v1h-1zM748 181h1v1h-1zM750 189h1v1h-1zM752 185h1v1h-1zM754 188h1v1h-1zM757 178h1v1h-1zM760 184h1v1h-1zM762 187h1v1h-1zM765 182h1v1h-1zM768 190h1v1h-1zM769 183h1v1h-1zM773 183h1v1h-1zM775 185h1v1h-1zM776 186h1v1h-1zM779 187h1v1h-1zM781 188h1v1h-1zM783 190h1v1h-1zM787 185h1v1h-1zM789 187h1v1h-1zM791 185h1v1h-1zM793 179h1v1h-1zM795 184h1v1h-1zM798 185h1v1h-1zM800 187h1v1h-1zM803 184h1v1h-1zM805 185h1v1h-1zM808 184h1v1h-1zM811 185h1v1h-1zM813 184h1v1h-1zM816 187h1v1h-1zM817 180h1v1h-1zM820 183h1v1h-1zM822 183h1v1h-1zM825 183h1v1h-1zM828 187h1v1h-1zM830 178h1v1h-1zM832 183h1v1h-1zM836 180h1v1h-1zM838 182h1v1h-1zM839 181h1v1h-1zM843 182h1v1h-1zM845 179h1v1h-1zM848 186h1v1h-1zM849 182h1v1h-1zM851 188h1v1h-1zM854 179h1v1h-1zM857 185h1v1h-1zM860 189h1v1h-1zM861 182h1v1h-1zM864 185h1v1h-1zM867 187h1v1h-1zM870 187h1v1h-1zM872 183h1v1h-1zM874 185h1v1h-1zM876 184h1v1h-1zM879 183h1v1h-1zM881 181h1v1h-1zM884 185h1v1h-1zM886 184h1v1h-1zM888 186h1v1h-1zM891 189h1v1h-1zM893 184h1v1h-1zM897 187h1v1h-1zM898 186h1v1h-1zM901 179h1v1h-1zM903 183h1v1h-1zM905 186h1v1h-1zM908 181h1v1h-1zM911 185h1v1h-1zM913 186h1v1h-1zM915 186h1v1h-1zM919 183h1v1h-1zM920 182h1v1h-1zM923 183h1v1h-1zM926 186h1v1h-1zM928 183h1v1h-1zM930 185h1v1h-1zM933 182h1v1h-1zM935 182h1v1h-1zM937 184h1v1h-1zM940 181h1v1h-1zM943 180h1v1h-1zM945 188h1v1h-1zM947 185h1v1h-1zM949 194h1v1h-1zM953 190h1v1h-1zM955 189h1v1h-1zM957 190h1v1h-1zM959 187h1v1h-1zM962 190h1v1h-1zM964 190h1v1h-1zM967 190h1v1h-1zM105 279h1v1h-1zM103 240h1v1h-1z" fill="#c000ff" shape-rendering="crispEdges"/>
<polyline points="95.0,277.0 95.4,270.0 96.4,251.4 97.9,234.3 98.9,221.4 100.0,213.6 101.4,214.3 102.9,220.0 104.3,227.1 105.0,232.1 106.4,230.0 108.6,225.0 110.7,217.9 112.9,212.1 115.7,206.4 117.9,201.4 119.5,194.0 122.0,190.5 124.5,189.0 125.5,184.0 128.0,177.0 129.5,170.0 131.0,166.0 133.0,163.5 137.0,162.8 144.0,163.0 150.0,163.8 155.0,164.5 160.0,164.7 166.0,164.0 172.0,163.2 178.0,162.8 184.0,162.2 185.0,162.2 192.5,162.7 200.0,163.8 207.5,164.2 215.0,164.2 222.5,163.8 230.0,163.0 237.5,162.7 245.0,162.0 252.5,161.8 260.0,161.0 267.5,160.8 275.0,160.0 282.5,159.0 287.0,158.5 291.5,159.6 297.5,160.8 305.0,161.8 312.5,162.0 320.0,162.0 324.5,161.0 329.0,161.5 330.0,161.9 336.0,162.2 340.5,164.2 345.0,166.0 349.5,168.7 354.0,172.0 358.5,175.0 363.0,178.3 367.5,181.8 372.0,184.8 376.5,187.8 381.0,189.7 385.5,191.5 390.0,192.7 394.5,192.2 399.0,190.4 403.5,188.8 408.0,186.7 412.5,185.1 417.0,183.2 421.5,182.5 426.0,182.1 432.0,182.1 438.0,182.9 444.0,183.6 450.0,184.3 454.5,184.3 459.0,183.2 465.0,183.2 471.0,182.8 475.0,182.7 482.5,182.2 490.0,183.0 505.0,182.7 520.0,182.2 535.0,181.9 542.5,182.7 557.5,183.0 572.5,183.0 587.5,183.4 595.0,184.2 602.5,183.3 617.5,183.3 620.0,184.2 627.5,183.8 635.0,184.2 645.5,183.3 650.0,184.5 660.5,185.2 668.0,187.5 674.0,189.0 680.0,190.2 687.5,189.0 696.5,187.9 701.0,186.0 710.0,185.7 722.0,186.0 729.5,186.0 740.0,185.6 747.5,184.8 758.0,185.2 765.0,184.8 780.0,184.8 790.5,186.0 802.5,185.2 810.0,184.2 825.0,183.3 840.0,182.6 855.0,183.0 862.5,184.2 870.0,183.3 885.0,183.8 900.0,184.2 915.0,184.1 925.0,184.1 934.0,184.1 940.0,185.2 947.5,186.3 953.5,188.2 958.0,189.0 969.2,189.0" fill="none" stroke="#c000ff" stroke-width="2" stroke-linejoin="round" shape-rendering="crispEdges"/>
<rect x="93.5" y="54.5" width="876.0" height="588.0" fill="none" stroke="#000" stroke-width="1" shape-rendering="crispEdges"/>
<rect x="901" y="571" width="49" height="2" fill="#ff0000" shape-rendering="crispEdges"/>
<rect x="901" y="589" width="49" height="2" fill="#00c000" shape-rendering="crispEdges"/>
<rect x="901" y="607" width="49" height="2" fill="#0080ff" shape-rendering="crispEdges"/>
<rect x="901" y="625" width="49" height="2" fill="#c000ff" shape-rendering="crispEdges"/>
<text x="285.47" y="32.00" textLength="68.60" lengthAdjust="spacingAndGlyphs">sysbench</text>
<text x="357.40" y="32.00" textLength="37.28" lengthAdjust="spacingAndGlyphs">tpcc,</text>
<text x="399.62" y="32.00" textLength="38.31" lengthAdjust="spacingAndGlyphs">scale</text>
<text x="441.02" y="32.00" textLength="47.28" lengthAdjust="spacingAndGlyphs">64×5,</text>
<text x="491.03" y="32.00" textLength="20.00" lengthAdjust="spacingAndGlyphs">64</text>
<text x="514.80" y="32.00" textLength="59.74" lengthAdjust="spacingAndGlyphs">threads,</text>
<text x="580.29" y="32.00" textLength="32.00" lengthAdjust="spacingAndGlyphs">64G</text>
<text x="615.30" y="32.00" textLength="23.10" lengthAdjust="spacingAndGlyphs">BP,</text>
<text x="644.34" y="32.00" textLength="34.03" lengthAdjust="spacingAndGlyphs">SSD,</text>
<text x="684.12" y="32.00" textLength="89.12" lengthAdjust="spacingAndGlyphs">(cheetah01)</text>
<text x="70.08" y="646.60" textLength="10.27" lengthAdjust="spacingAndGlyphs">0</text>
<text x="42.36" y="572.60" textLength="37.95" lengthAdjust="spacingAndGlyphs">1000</text>
<text x="41.28" y="499.60" textLength="38.91" lengthAdjust="spacingAndGlyphs">2000</text>
<text x="41.28" y="425.60" textLength="39.01" lengthAdjust="spacingAndGlyphs">3000</text>
<text x="41.85" y="352.60" textLength="38.31" lengthAdjust="spacingAndGlyphs">4000</text>
<text x="41.21" y="278.60" textLength="38.99" lengthAdjust="spacingAndGlyphs">5000</text>
<text x="41.35" y="205.60" textLength="38.95" lengthAdjust="spacingAndGlyphs">6000</text>
<text x="41.68" y="131.60" textLength="38.62" lengthAdjust="spacingAndGlyphs">7000</text>
<text x="41.46" y="58.60" textLength="38.80" lengthAdjust="spacingAndGlyphs">8000</text>
<text x="87.77" y="665.00" textLength="10.74" lengthAdjust="spacingAndGlyphs">0</text>
<text x="200.96" y="665.00" textLength="29.07" lengthAdjust="spacingAndGlyphs">500</text>
<text x="317.24" y="665.00" textLength="37.75" lengthAdjust="spacingAndGlyphs">1000</text>
<text x="439.03" y="665.00" textLength="38.45" lengthAdjust="spacingAndGlyphs">1500</text>
<text x="559.91" y="665.00" textLength="39.51" lengthAdjust="spacingAndGlyphs">2000</text>
<text x="681.19" y="665.00" textLength="39.20" lengthAdjust="spacingAndGlyphs">2500</text>
<text x="803.30" y="665.00" textLength="39.05" lengthAdjust="spacingAndGlyphs">3000</text>
<text x="925.39" y="665.00" textLength="38.98" lengthAdjust="spacingAndGlyphs">3500</text>
<text x="418.47" y="691.70" textLength="82.72" lengthAdjust="spacingAndGlyphs">benchmark</text>
<text x="506.09" y="691.70" textLength="57.55" lengthAdjust="spacingAndGlyphs">runtime</text>
<text x="568.36" y="691.70" textLength="73.21" lengthAdjust="spacingAndGlyphs">[seconds]</text>
<text x="766.47" y="576.50" textLength="63.01" lengthAdjust="spacingAndGlyphs">MariaDB</text>
<text x="834.88" y="576.50" textLength="54.85" lengthAdjust="spacingAndGlyphs">10.5.19</text>
<text x="766.47" y="594.50" textLength="63.01" lengthAdjust="spacingAndGlyphs">MariaDB</text>
<text x="834.86" y="594.50" textLength="53.99" lengthAdjust="spacingAndGlyphs">10.6.11</text>
<text x="766.47" y="612.50" textLength="63.01" lengthAdjust="spacingAndGlyphs">MariaDB</text>
<text x="834.93" y="612.50" textLength="54.25" lengthAdjust="spacingAndGlyphs">10.6.12</text>
<text x="787.38" y="630.50" textLength="50.14" lengthAdjust="spacingAndGlyphs">MySQL</text>
<text x="843.01" y="630.50" textLength="46.79" lengthAdjust="spacingAndGlyphs">8.0.25</text>
<text transform="translate(18.00,410.38) rotate(-90)" textLength="83.35" lengthAdjust="spacingAndGlyphs">throughput</text>
<text transform="translate(18.00,322.90) rotate(-90)" textLength="35.67" lengthAdjust="spacingAndGlyphs">[tps]</text>
</svg>
</body></html>
